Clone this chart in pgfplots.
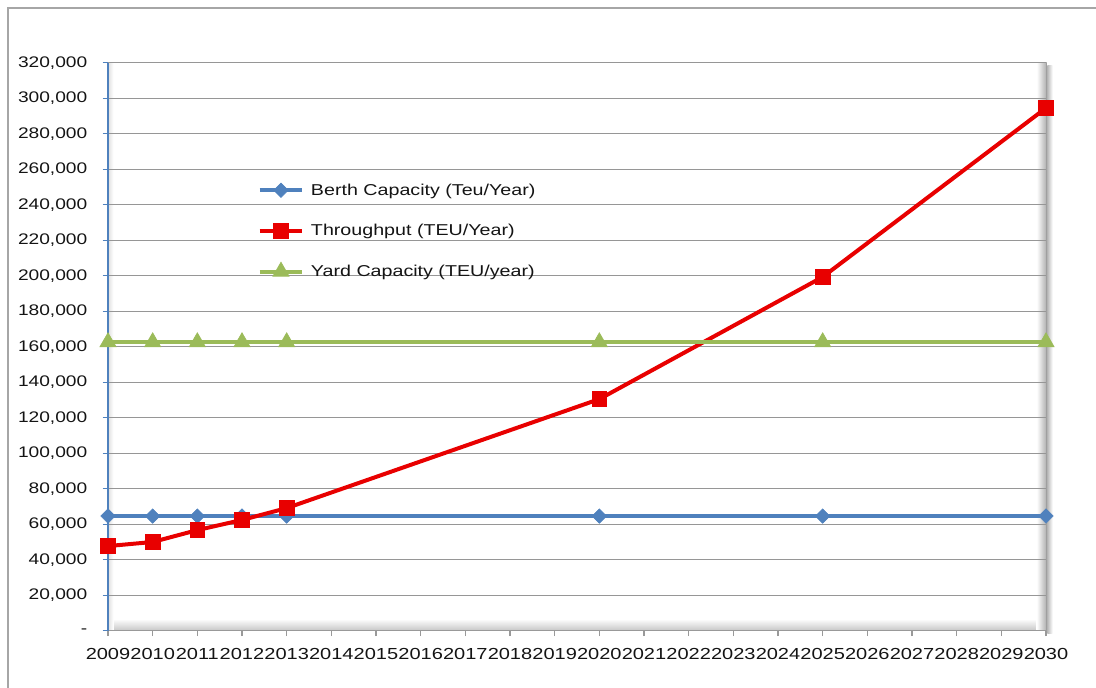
\documentclass[border=0pt]{standalone}
\usepackage{fontspec}
\setmainfont{Liberation Sans}[FakeStretch=1.25]
\usepackage{pgfplots}
\pgfplotsset{compat=1.18}

\definecolor{berth}{RGB}{79,129,189}
\definecolor{thru}{RGB}{232,0,0}
\definecolor{yard}{RGB}{155,187,89}
\definecolor{gridgray}{RGB}{150,150,150}

\begin{document}
\begin{tikzpicture}
\path[use as bounding box] (0,0) rectangle (822pt,515.25pt);
% chart frame
\draw[gray!70, line width=0.9pt] (6pt,-2pt) -- (6pt,509.25pt) -- (824pt,509.25pt);
% plot area bevel and shadow
\shade[top color=white, bottom color=gray!45] (81pt,42.2pt) rectangle (784.5pt,51pt);
\shade[left color=white, right color=gray!60] (777.5pt,42.2pt) rectangle (784.5pt,468.2pt);
\shade[left color=gray!25, right color=white] (81pt,42.2pt) rectangle (85pt,468.2pt);
\shade[left color=gray!55, right color=white] (785.5pt,40pt) rectangle (789.5pt,466pt);
\draw[gray!75, line width=1.2pt] (785pt,42.2pt) -- (785pt,468.2pt);
\draw[gray!60, line width=0.9pt] (81pt,468.2pt) -- (785pt,468.2pt);

\begin{axis}[
  at={(81pt,42.2pt)}, anchor=south west,
  scale only axis, width=703.5pt, height=426pt,
  xmin=2009, xmax=2030, ymin=0, ymax=320000,
  scaled ticks=false, scaled y ticks=false,
  axis x line*=bottom, axis y line*=left,
  x axis line style={draw=gray!80, line width=0.9pt},
  y axis line style={draw=berth, line width=1.1pt},
  xtick={2009,2010,...,2030},
  xticklabels={2009,2010,2011,2012,2013,2014,2015,2016,2017,2018,2019,2020,2021,2022,2023,2024,2025,2026,2027,2028,2029,2030},
  ytick={0,20000,...,320000},
  yticklabels={-,{20,000},{40,000},{60,000},{80,000},{100,000},{120,000},{140,000},{160,000},{180,000},{200,000},{220,000},{240,000},{260,000},{280,000},{300,000},{320,000}},
  tick align=outside, major tick length=4pt,
  xtick style={draw=gray!80, line width=0.8pt},
  ytick style={draw=berth, line width=0.9pt},
  ymajorgrids, major grid style={draw=gridgray, line width=0.9pt},
  yticklabel style={font=\fontsize{11.5}{13}\selectfont, text=black!92, xshift=-8pt},
  xticklabel style={font=\fontsize{12}{14}\selectfont, text=black!92, yshift=-6pt},
  legend style={at={(rel axis cs:0.155,0.797)}, anchor=north west, draw=none, fill=none,
    font=\fontsize{11.8}{13}\selectfont, text=black!92, row sep=16.4pt,
    /tikz/every odd column/.append style={column sep=3pt}},
  legend cell align=left,
  legend image code/.code={\draw[mark repeat=2,mark phase=2,#1] plot coordinates {(0pt,0pt) (16pt,0pt) (32pt,0pt)};},
  clip=false,
]
\addplot[berth, line width=3pt, mark=square*, mark size=3.8pt, mark options={solid, rotate=45, line width=0.5pt}]
  coordinates {(2009,64600) (2010,64600) (2011,64600) (2012,64600) (2013,64600) (2020,64600) (2025,64600) (2030,64600)};
\addlegendentry{Berth Capacity (Teu/Year)}
\addplot[thru, line width=3pt, mark=square*, mark size=5.5pt, mark options={solid, line width=0.5pt}]
  coordinates {(2009,47700) (2010,50000) (2011,56700) (2012,62400) (2013,69100) (2020,130500) (2025,199300) (2030,294500)};
\addlegendentry{Throughput (TEU/Year)}
\addplot[yard, line width=3pt, mark=triangle*, mark size=7pt, mark options={solid, line width=0.5pt}]
  coordinates {(2009,162600) (2010,162600) (2011,162600) (2012,162600) (2013,162600) (2020,162600) (2025,162600) (2030,162600)};
\addlegendentry{Yard Capacity (TEU/year)}
\end{axis}
\end{tikzpicture}
\end{document}
